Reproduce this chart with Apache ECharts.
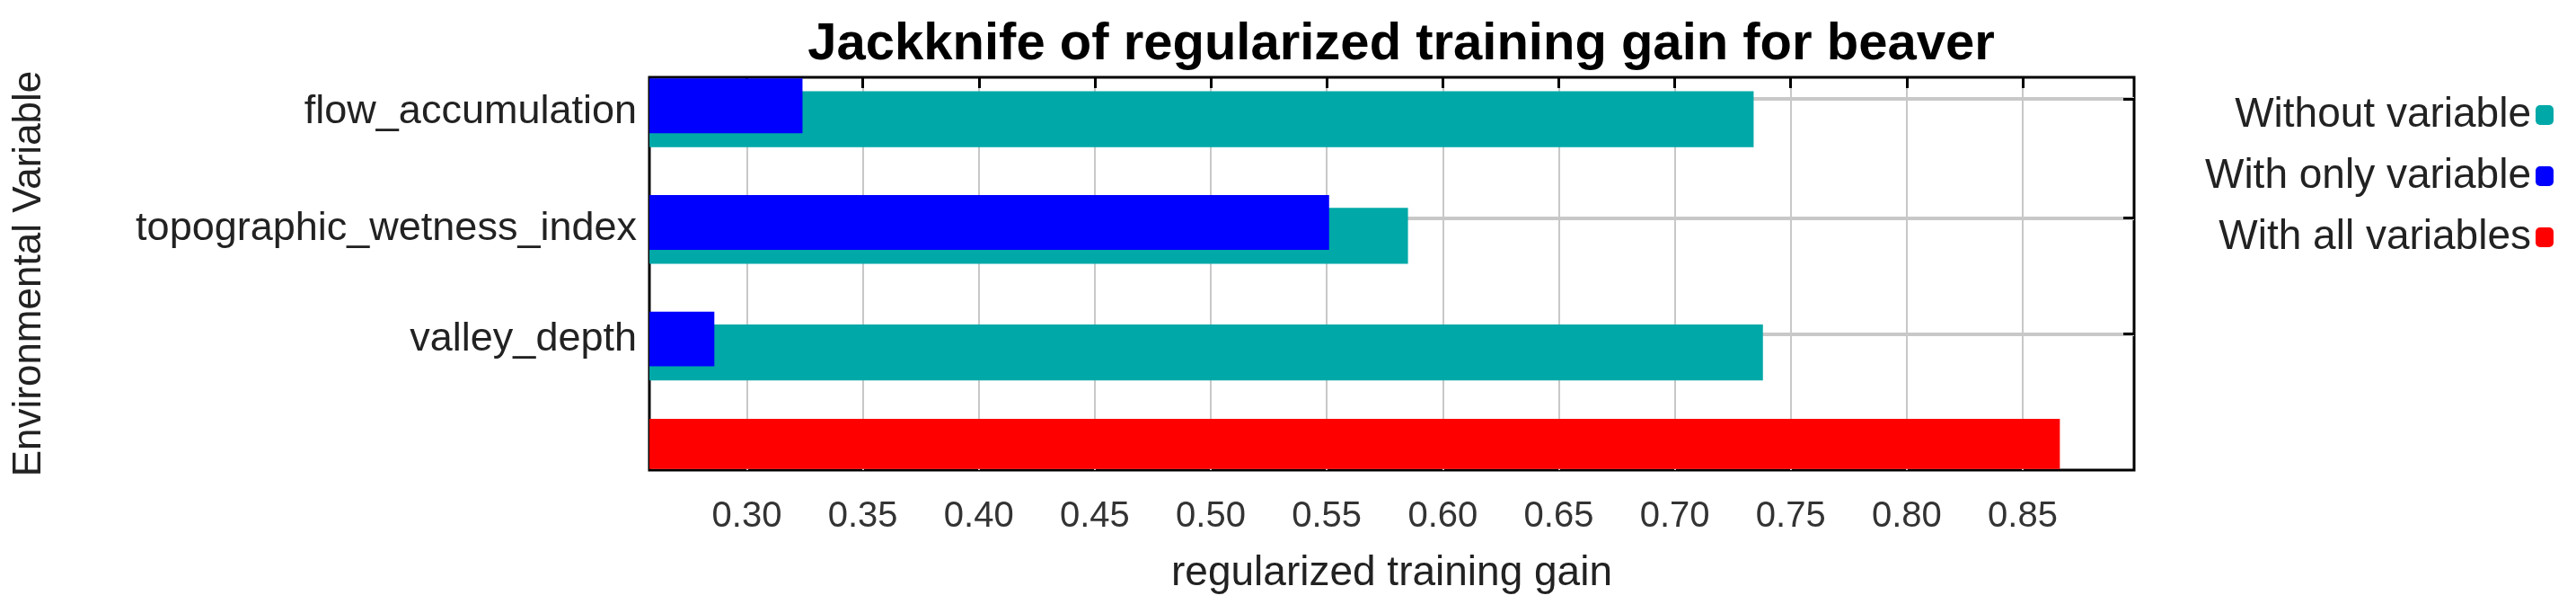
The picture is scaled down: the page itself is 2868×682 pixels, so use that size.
<!DOCTYPE html>
<html><head><meta charset="utf-8">
<script src="https://cdn.jsdelivr.net/npm/echarts@6/dist/echarts.min.js"></script>
<style>html,body{margin:0;padding:0;background:#fff}#c{width:2868px;height:682px}</style>
</head><body><div id="c"></div>
<script>
const variables = ['flow_accumulation', 'topographic_wetness_index', 'valley_depth'];
const withoutVariable = [0.734, 0.585, 0.738];
const withOnlyVariable = [0.324, 0.551, 0.286];
const withAllVariables = 0.866;
const xTicks = [0.30, 0.35, 0.40, 0.45, 0.50, 0.55, 0.60, 0.65, 0.70, 0.75, 0.80, 0.85];
const rowIndex = [1, 2, 3];
const allRow = 4;

const XMIN = 0.258, XMAX = 0.898;
const FONT = 'Liberation Sans, Arial, sans-serif';

function bar(off0, off1) {
  return function (params, api) {
    const v = api.value(0), r = api.value(1);
    const p0 = api.coord([XMIN, r + off0]);
    const p1 = api.coord([v, r + off1]);
    return { type: 'rect', shape: { x: p0[0], y: p0[1], width: p1[0] - p0[0], height: p1[1] - p0[1] },
      style: { fill: api.visual('color') } };
  };
}

const chart = echarts.init(document.getElementById('c'));
chart.setOption({
  animation: false,
  backgroundColor: '#fff',
  title: { text: 'Jackknife of regularized training gain for beaver', left: 1555, top: 16, textAlign: 'center',
    textStyle: { fontFamily: FONT, fontWeight: 'bold', fontSize: 58, color: '#000' } },
  legend: { orient: 'vertical', right: 20, top: 100, align: 'right', itemGap: 22, itemWidth: 20, itemHeight: 22,
    textStyle: { fontFamily: FONT, fontSize: 46, color: '#222' },
    data: ['Without variable', 'With only variable', 'With all variables'] },
  grid: { left: 723, right: 492, top: 86, bottom: 159, show: true, borderColor: '#000', borderWidth: 3, backgroundColor: '#fff' },
  xAxis: [{
    type: 'value', min: XMIN, max: XMAX, position: 'bottom',
    name: 'regularized training gain', nameLocation: 'middle', nameGap: 92,
    nameTextStyle: { fontFamily: FONT, fontSize: 46, color: '#222' },
    axisLine: { show: false },
    axisTick: { show: false, customValues: xTicks },
    axisLabel: { customValues: xTicks, margin: 32, fontFamily: FONT, fontSize: 40, color: '#333', formatter: v => v.toFixed(2) },
    splitLine: { show: true, lineStyle: { color: '#c8c8c8', width: 2 } }
  }, {
    type: 'value', min: XMIN, max: XMAX, position: 'top',
    axisLine: { show: false },
    axisTick: { show: true, inside: true, length: 12, customValues: xTicks, lineStyle: { color: '#000', width: 3 } },
    axisLabel: { show: false }, splitLine: { show: false }
  }],
  yAxis: [{
    type: 'value', inverse: true, min: 0.7, max: 4.07,
    name: 'Environmental Variable', nameLocation: 'middle', nameGap: 668, nameRotate: 90,
    nameTextStyle: { fontFamily: FONT, fontSize: 44, color: '#222' },
    axisLine: { show: false },
    axisTick: { show: false, customValues: [0.885, 1.908, 2.9] },
    axisLabel: { customValues: [1, 2, 2.95], margin: 14, fontFamily: FONT, fontSize: 45, color: '#222',
      formatter: v => variables[Math.round(v) - 1] || '' },
    splitLine: { show: true, lineStyle: { color: '#c8c8c8', width: 4 } }
  }, {
    type: 'value', inverse: true, min: 0.7, max: 4.07, position: 'right',
    axisLine: { show: false },
    axisTick: { show: true, inside: true, length: 12, customValues: [0.885, 1.908, 2.9], lineStyle: { color: '#000', width: 3 } },
    axisLabel: { show: false }, splitLine: { show: false }
  }],
  series: [
    { name: 'Without variable', type: 'custom', color: '#00a8a8', renderItem: bar(-0.18, 0.30),
      encode: { x: 0, y: 1 }, data: withoutVariable.map((v, i) => [v, rowIndex[i]]) },
    { name: 'With only variable', type: 'custom', color: '#0000ff', renderItem: bar(-0.29, 0.18),
      encode: { x: 0, y: 1 }, data: withOnlyVariable.map((v, i) => [v, rowIndex[i]]) },
    { name: 'With all variables', type: 'custom', color: '#ff0000', renderItem: bar(-0.37, 0.06),
      encode: { x: 0, y: 1 }, data: [[withAllVariables, allRow]] }
  ]
});
</script></body></html>
